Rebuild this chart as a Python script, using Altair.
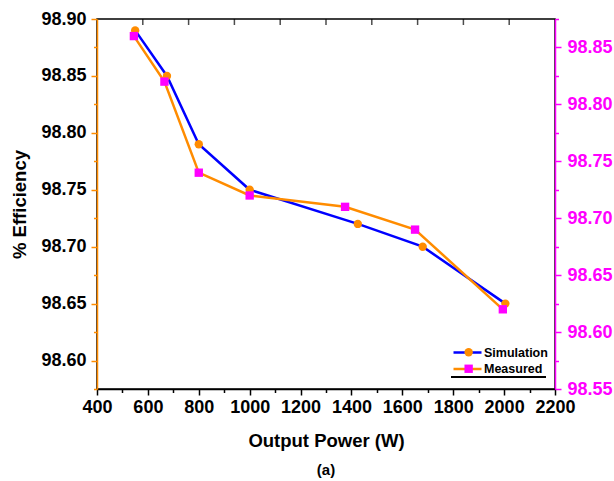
import altair as alt
import pandas as pd

# ---- data ----
sim_power = [550, 675, 800, 1000, 1425, 1680, 2005]
sim_eff = [98.89, 98.85, 98.79, 98.75, 98.72, 98.70, 98.65]
meas_power = [545, 665, 800, 1000, 1375, 1650, 1995]
meas_eff = [98.86, 98.82, 98.74, 98.72, 98.71, 98.69, 98.62]

series_names = ["Simulation", "Measured"]
marker_names = ["Simulation marker", "Measured marker"]
line_colors = ["#0000FF", "#FF8C00"]
marker_colors = ["#FF8C00", "#FF00FF"]
marker_shapes = ["circle", "square"]

x_ticks = [400, 500, 600, 700, 800, 900, 1000, 1100, 1200, 1300, 1400,
           1500, 1600, 1700, 1800, 1900, 2000, 2100, 2200]
top_ticks = [580, 760, 940, 1120, 1300, 1480, 1660, 1840, 2020]
left_ticks = [98.575, 98.6, 98.625, 98.65, 98.675, 98.7, 98.725, 98.75,
              98.775, 98.8, 98.825, 98.85, 98.875, 98.9]
right_ticks = [98.55, 98.575, 98.6, 98.625, 98.65, 98.675, 98.7, 98.725,
               98.75, 98.775, 98.8, 98.825, 98.85, 98.875]

FONT = "Liberation Sans"
ORANGE = "#FF8C00"
MAGENTA = "#FF00FF"

sim_df = pd.DataFrame({"power": sim_power, "eff": sim_eff,
                       "series": series_names[0], "marker": marker_names[0]})
meas_df = pd.DataFrame({"power": meas_power, "eff": meas_eff,
                        "series": series_names[1], "marker": marker_names[1]})
top_df = pd.DataFrame({"power": top_ticks})

stroke_scale = alt.Scale(domain=series_names, range=line_colors)
fill_scale = alt.Scale(domain=marker_names, range=marker_colors)
shape_scale = alt.Scale(domain=marker_names, range=marker_shapes)

x_axis = alt.Axis(
    values=x_ticks,
    labelExpr="datum.value % 200 == 0 ? format(datum.value, 'd') : ''",
    tickSize={"condition": {"test": "datum.value % 200 == 0", "value": 6}, "value": 3.5},
    title="Output Power (W)", titleFontSize=18.5, titlePadding=15,
    labelFontSize=18, labelPadding=3, labelOverlap=False, labelFlush=False, grid=False,
)
x_scale = alt.Scale(domain=[400, 2200], nice=False, zero=False)
x_enc = alt.X("power:Q", scale=x_scale, axis=x_axis)

major_test = "abs(round(datum.value * 1000) % 50) == 0"

left_axis = alt.Axis(
    orient="left", values=left_ticks,
    labelExpr=f"{major_test} ? format(datum.value, '.2f') : ''",
    tickSize={"condition": {"test": major_test, "value": 6}, "value": 3.5},
    tickColor=ORANGE, domainColor=ORANGE, labelColor="black",
    title="% Efficiency", titleFontSize=18.5, titlePadding=11,
    labelFontSize=18, labelPadding=5, labelOverlap=False, labelFlush=False, grid=False,
)
right_axis = alt.Axis(
    orient="right", values=right_ticks,
    labelExpr=f"{major_test} ? format(datum.value, '.2f') : ''",
    tickSize={"condition": {"test": major_test, "value": 6}, "value": 3.5},
    tickColor=MAGENTA, domainColor=MAGENTA, labelColor=MAGENTA,
    title=None, labelFontSize=18, labelPadding=6, labelOverlap=False, labelFlush=False, grid=False,
)

line_legend = alt.Legend(
    title=None, orient="none", legendX=364, legendY=327, padding=0,
    symbolType="M-2.8,0H2.8", symbolSize=100, symbolStrokeWidth=2.5,
    labelFont=FONT, labelFontSize=12.5, labelFontWeight="bold", labelColor="black",
    labelOffset=10, rowPadding=3.5, zindex=0,
)
point_legend = alt.Legend(
    title=None, orient="none", legendX=365.4, legendY=327, padding=0,
    symbolSize=70, symbolStrokeWidth=0,
    labelFont=FONT, labelFontSize=12.5, labelFontWeight="bold",
    labelExpr="''", labelOffset=0, rowPadding=3.5, zindex=1,
)

y_left = alt.Y("eff:Q", scale=alt.Scale(domain=[98.575, 98.90], nice=False, zero=False), axis=left_axis)
y_right = alt.Y("eff:Q", scale=alt.Scale(domain=[98.55, 98.875], nice=False, zero=False), axis=right_axis)

def series_layer(df, y_enc):
    line = alt.Chart(df).mark_line(strokeWidth=2.5).encode(
        x=x_enc, y=y_enc,
        stroke=alt.Stroke("series:N", scale=stroke_scale, legend=line_legend),
    )
    pts = alt.Chart(df).mark_point(filled=True, size=70, opacity=1, strokeWidth=0).encode(
        x=x_enc, y=y_enc,
        fill=alt.Fill("marker:N", scale=fill_scale, legend=point_legend),
        shape=alt.Shape("marker:N", scale=shape_scale, legend=point_legend),
    )
    return alt.layer(line, pts)

# inward ticks hanging from the top frame
top = alt.Chart(top_df).mark_tick(color="black", thickness=1.5, size=6, orient="vertical").encode(
    x=alt.X("power:Q", scale=x_scale, axis=x_axis),
    y=alt.value(3),
)

underline = alt.Chart(top_df).mark_rule(color="black", strokeWidth=1).encode(
    x=alt.value(354), x2=alt.value(449), y=alt.value(358)
)

chart = alt.layer(
    series_layer(sim_df, y_left), series_layer(meas_df, y_right), top, underline
).resolve_scale(y="independent").properties(
    width=458, height=370,
    padding={"left": 97, "top": 19, "right": 59, "bottom": 92},
    autosize=alt.AutoSizeParams(type="none"),
    title=alt.TitleParams(text="(a)", orient="bottom", anchor="middle", fontSize=15,
                          font=FONT, fontWeight="bold", color="black", offset=13),
).configure(font=FONT).configure_view(
    stroke="black", strokeWidth=1.5
).configure_axis(
    labelFont=FONT, titleFont=FONT, labelFontWeight="bold", titleFontWeight="bold",
    titleColor="black", domainWidth=1.5, tickWidth=1.5, domainColor="black", tickColor="black",
    labelColor="black",
)

chart.save("out.html", embed_options={"renderer": "svg", "actions": False})
